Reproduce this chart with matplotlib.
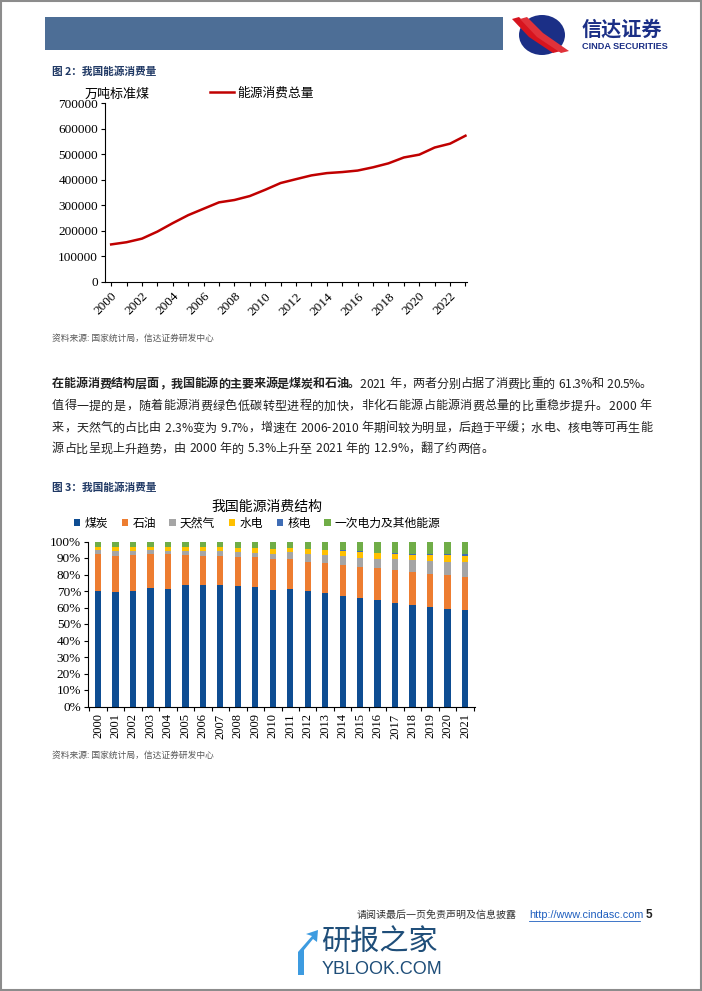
import matplotlib
matplotlib.use("Agg")
import matplotlib.pyplot as plt
from matplotlib.patches import Rectangle, Ellipse, Polygon
from matplotlib.lines import Line2D

plt.rcParams["font.family"] = ["Noto Sans CJK SC", "DejaVu Sans"]

W, H = 702, 991

# --- chart 1: total energy consumption (10k t standard coal)
line_years = list(range(2000, 2024))
total_use = [146964, 155547, 169577, 197083, 230281, 261369, 286467, 311442,
             320611, 336126, 360648, 387043, 402138, 416913, 425806, 429905,
             435819, 448529, 464000, 487000, 498000, 525896, 541000, 572000]

# --- chart 2: consumption structure (%)
bar_years = [str(y) for y in range(2000, 2022)]
coal = [70.0, 69.6, 70.0, 71.6, 71.4, 73.6, 73.6, 73.6, 73.0, 72.6, 70.6,
        71.2, 70.0, 69.0, 67.2, 65.6, 64.5, 62.9, 61.5, 60.1, 59.3, 58.5]
oil = [22.4, 21.8, 21.8, 20.8, 21.0, 18.2, 17.8, 17.8, 17.8, 17.8, 18.6,
       18.0, 17.8, 17.8, 18.6, 19.1, 19.2, 19.8, 20.2, 20.0, 20.4, 20.2]
gas = [2.4, 2.8, 2.6, 2.4, 2.0, 2.6, 3.0, 3.0, 3.0, 2.8, 3.2,
       4.6, 4.6, 5.0, 5.4, 5.1, 5.5, 6.5, 7.1, 8.3, 8.1, 8.7]
hydro = [2.1, 2.3, 2.5, 1.7, 2.0, 2.1, 2.1, 2.1, 2.1, 2.7, 2.9,
         2.1, 2.9, 3.0, 3.2, 4.0, 3.6, 3.0, 2.8, 3.2, 3.8, 3.8]
nuclear = [0.0, 0.0, 0.0, 0.0, 0.0, 0.0, 0.0, 0.0, 0.0, 0.0, 0.1,
           0.1, 0.1, 0.1, 0.2, 0.2, 0.4, 0.6, 0.8, 0.8, 0.8, 1.0]
other = [3.1, 3.5, 3.1, 3.5, 3.6, 3.5, 3.5, 3.5, 4.1, 4.1, 4.6,
         4.0, 4.6, 5.1, 5.4, 6.0, 6.8, 7.2, 7.6, 7.6, 7.6, 7.8]
series_names = ["煤炭", "石油", "天然气", "水电", "核电", "一次电力及其他能源"]
series_colors = ["#0E4D92", "#ED7D31", "#A5A5A5", "#FFC000", "#3F6DB5", "#70AD47"]

para_bold = "在能源消费结构层面，我国能源的主要来源是煤炭和石油。"
para_lines = [
    "2021 年，两者分别占据了消费比重的 61.3%和 20.5%。",
    "值得一提的是，随着能源消费绿色低碳转型进程的加快，非化石能源占能源消费总量的比重稳步提升。2000 年",
    "来，天然气的占比由 2.3%变为 9.7%，增速在 2006-2010 年期间较为明显，后趋于平缓；水电、核电等可再生能",
    "源占比呈现上升趋势，由 2000 年的 5.3%上升至 2021 年的 12.9%，翻了约两倍。",
]

SERIF = ["Liberation Serif", "Noto Sans CJK SC"]
NAVY = "#1F3864"


def box(l, t, r, b):
    return [l / W, 1 - b / H, (r - l) / W, (b - t) / H]


def fx(x):
    return x / W


def fy(y):
    return 1 - y / H


fig = plt.figure(figsize=(W / 100, H / 100), dpi=100)
renderer = fig.canvas.get_renderer()

# page frame and header
fig.patches.append(Rectangle((0.001, 0.001), 0.998, 0.998, transform=fig.transFigure,
                             fill=False, edgecolor="#8c8c8c", lw=1.5))
fig.patches.append(Rectangle((fx(45), fy(50)), fx(503) - fx(45), fy(17) - fy(50),
                             transform=fig.transFigure, color="#4D6E96", lw=0))
# logo
fig.patches.append(Ellipse((fx(542), fy(35)), 46 / W, 40 / H, transform=fig.transFigure,
                           color="#1B2F86", lw=0))
for dx, col in [(-5, "#D7141E"), (3, "#E0323A")]:
    fig.patches.append(Polygon([(fx(517 + dx), fy(19)), (fx(524 + dx), fy(17)),
                                (fx(540 + dx), fy(33)), (fx(566 + dx), fy(51)),
                                (fx(558 + dx), fy(53)), (fx(534 + dx), fy(37))],
                               closed=True, transform=fig.transFigure, color=col, lw=0))
fig.text(fx(582), fy(29), "信达证券", fontsize=14.5, fontweight="bold", color="#1B2F86",
         va="center", ha="left")
fig.text(fx(582), fy(46.5), "CINDA SECURITIES", fontsize=6.6, fontweight="bold",
         color="#1B2F86", va="center", ha="left", family=["Liberation Sans"])

# ---------------- chart 1
fig.text(fx(52), fy(72), "图 2：我国能源消费量", fontsize=7.7, fontweight="bold",
         color=NAVY, va="center")
ax1 = fig.add_axes(box(105, 103, 467, 282))
ax1.plot(line_years, total_use, color="#C00000", lw=1.8, label="能源消费总量")
ax1.set_xlim(1999.6, 2023.1)
ax1.set_ylim(0, 700000)
ax1.set_yticks(range(0, 700001, 100000))
ax1.set_yticklabels([str(v) for v in range(0, 700001, 100000)], family=SERIF, fontsize=9.5)
ax1.set_xticks(range(2000, 2024, 2))
ax1.set_xticklabels([str(y) for y in range(2000, 2024, 2)], family=SERIF, fontsize=9.5,
                    rotation=45, ha="right", rotation_mode="anchor")
ax1.set_xticks(range(2000, 2024), minor=True)
for s in ["top", "right"]:
    ax1.spines[s].set_visible(False)
ax1.tick_params(axis="both", which="both", direction="out", length=3, width=0.8, pad=2)
ax1.tick_params(axis="x", pad=3)
ax1.legend(loc="center left", bbox_to_anchor=((210 - 105) / 362, (282 - 93) / 179),
           frameon=False, fontsize=9.2, handlelength=1.9, handletextpad=0.2,
           borderaxespad=0, borderpad=0)
fig.text(fx(85), fy(94), "万吨标准煤", fontsize=9.4, va="center", ha="left")
fig.text(fx(52), fy(338), "资料来源: 国家统计局，信达证券研发中心", fontsize=6.3,
         color="#595959", style="italic", va="center")

# ---------------- paragraph
PFS = 8.7
left, right = 52, 652
line_y = [384, 406, 428, 449]


def draw_justified(pieces, y, x0, x1, justify):
    # pieces: list of (text, weight); place characters one by one
    chars = []
    for txt, wt in pieces:
        for ch in txt:
            t = fig.text(fx(x0), fy(y), ch, fontsize=PFS, fontweight=wt, color="#222222",
                         va="center", ha="left")
            w = t.get_window_extent(renderer).width if ch != " " else PFS * 100 / 72 * 0.3
            chars.append((t, w))
    total = sum(w for _, w in chars)
    gap = (x1 - x0 - total) / (len(chars) - 1) if justify else 0.0
    x = x0
    for t, w in chars:
        t.set_x(fx(x))
        x += w + gap


draw_justified([(para_bold, "bold"), (para_lines[0], "normal")], line_y[0], left, right, True)
draw_justified([(para_lines[1], "normal")], line_y[1], left, right, True)
draw_justified([(para_lines[2], "normal")], line_y[2], left, right, True)
draw_justified([(para_lines[3], "normal")], line_y[3], left, right, False)

# ---------------- chart 2
fig.text(fx(52), fy(488), "图 3：我国能源消费量", fontsize=7.7, fontweight="bold",
         color=NAVY, va="center")
ax2 = fig.add_axes(box(88, 541.5, 475, 706.5))
xpos = list(range(len(bar_years)))
bottom = [0.0] * len(bar_years)
for name, vals, col in zip(series_names, [coal, oil, gas, hydro, nuclear, other], series_colors):
    frac = [v / 100 for v in vals]
    ax2.bar(xpos, frac, width=0.36, bottom=bottom, color=col, label=name, lw=0)
    bottom = [b + f for b, f in zip(bottom, frac)]
ax2.set_xlim(-0.57, len(bar_years) - 0.43)
ax2.set_ylim(0, 1)
ax2.set_yticks([i / 10 for i in range(11)])
ax2.set_yticklabels([f"{i * 10}%" for i in range(11)], family=SERIF, fontsize=9.5)
ax2.set_xticks(xpos)
ax2.set_xticklabels(bar_years, family=SERIF, fontsize=9, rotation=90)
ax2.set_xticks([i + 0.5 for i in range(-1, len(bar_years))], minor=True)
ax2.tick_params(axis="x", which="major", length=0, pad=5)
ax2.tick_params(axis="x", which="minor", length=3, width=0.8, direction="out")
ax2.tick_params(axis="y", length=3, width=0.8, direction="out", pad=2)
for s in ["top", "right"]:
    ax2.spines[s].set_visible(False)
fig.text(fx(267), fy(507), "我国能源消费结构", fontsize=10, ha="center", va="center")
ax2.legend(loc="center left", bbox_to_anchor=((74 - 88) / 387, (706.5 - 523) / 165), ncol=6,
           frameon=False, fontsize=8.5, handlelength=0.55, handleheight=0.55,
           handletextpad=0.35, columnspacing=1.15, borderaxespad=0, borderpad=0)
fig.text(fx(52), fy(755), "资料来源: 国家统计局，信达证券研发中心", fontsize=6.3,
         color="#595959", style="italic", va="center")

# ---------------- footer
fig.text(fx(357), fy(915), "请阅读最后一页免责声明及信息披露", fontsize=7.2, color="#333333",
         va="center", ha="left")
fig.text(fx(529), fy(915), "http://www.cindasc.com", fontsize=7.8, color="#1F5FBF",
         va="center", ha="left", family=["Liberation Sans"])
fig.add_artist(Line2D([fx(529), fx(640)], [fy(920.5), fy(920.5)], color="#1F5FBF", lw=0.6))
fig.text(fx(646), fy(915), "5", fontsize=8.5, fontweight="bold", color="#222222",
         va="center", ha="left", family=["Liberation Sans"])
fig.patches.append(Polygon([(fx(298), fy(975)), (fx(298), fy(952)), (fx(312), fy(936)),
                            (fx(306), fy(934)), (fx(318), fy(930)), (fx(317), fy(942)),
                            (fx(313), fy(939)), (fx(304), fy(950)), (fx(304), fy(975))],
                           closed=True, transform=fig.transFigure, color="#3D9BE0", lw=0))
fig.text(fx(321), fy(943), "研报之家", fontsize=21, color="#1F4E79", va="center", ha="left")
fig.text(fx(322), fy(969), "YBLOOK.COM", fontsize=13, color="#1F4E79", va="center",
         ha="left", family=["Liberation Sans"])

fig.savefig("out.png", dpi=100)
